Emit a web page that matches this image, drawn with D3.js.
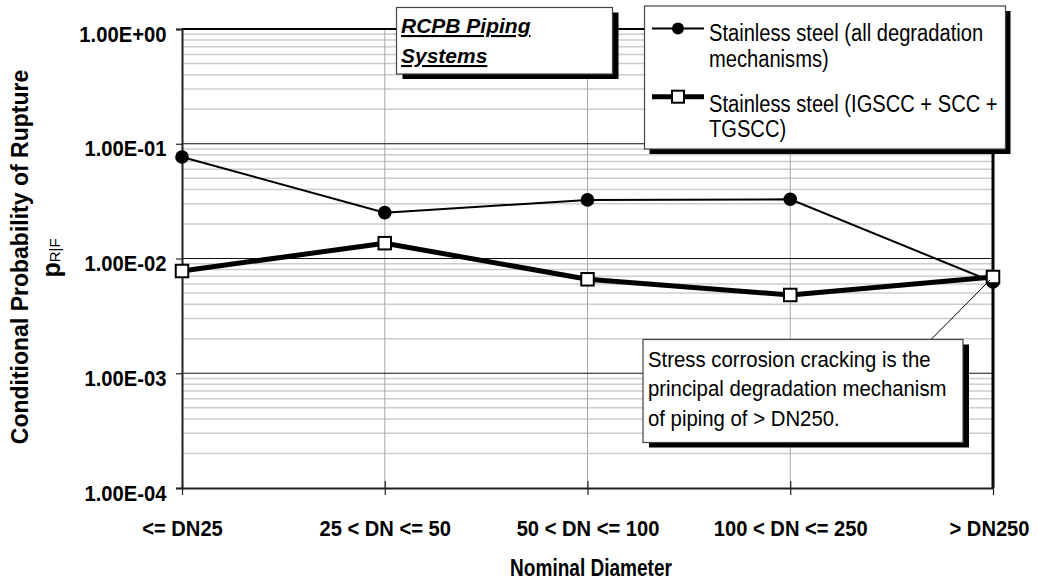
<!DOCTYPE html>
<html>
<head>
<meta charset="utf-8">
<script src="https://cdn.jsdelivr.net/npm/d3@7"></script>
<style>
  html, body { margin: 0; padding: 0; background: #fff; }
  svg { display: block; font-family: "Liberation Sans", Arial, sans-serif; }
</style>
</head>
<body>
<svg id="chart" width="1038" height="580"></svg>
<script>
// ---- data ----
const categories = ["<= DN25", "25 < DN <= 50", "50 < DN <= 100", "100 < DN <= 250", "> DN250"];
const allMechanisms = [0.0766, 0.0251, 0.0324, 0.0328, 0.00624];
const sccOnly = [0.00778, 0.0136, 0.00659, 0.00481, 0.0069];
const yTickValues = [1e-4, 1e-3, 1e-2, 1e-1, 1];
const yTickLabels = ["1.00E-04", "1.00E-03", "1.00E-02", "1.00E-01", "1.00E+00"];
const seriesNames = ["Stainless steel (all degradation|mechanisms)", "Stainless steel (IGSCC + SCC +|TGSCC)"];
const titleLines = ["RCPB Piping", "Systems"];
const noteLines = ["Stress corrosion cracking is the", "principal degradation mechanism", "of piping of > DN250."];
const xTitle = "Nominal Diameter";
const yTitle = "Conditional Probability of Rupture";

// ---- layout ----
const FONT = "Liberation Sans, Arial, sans-serif";
const L = 182, R = 993, T = 29, B = 488;
const svg = d3.select("#chart");
const x = d3.scalePoint().domain(categories).range([L, R]);
const y = d3.scaleLog().domain([1e-4, 1]).range([B, T]);

// horizontally condense text (reference lettering is narrow)
function squeeze(sel, f) {
  sel.each(function () {
    const t = d3.select(this);
    const tx = +t.attr("x") || 0, ty = +t.attr("y") || 0;
    t.attr("x", 0).attr("y", 0).attr("transform", `translate(${tx},${ty}) scale(${f},1)`);
  });
}

// minor gridlines
const minor = [];
for (let e = -4; e < 0; e++) for (let m = 2; m <= 9; m++) minor.push(m * Math.pow(10, e));
svg.append("g").selectAll("line").data(minor).join("line")
  .attr("x1", L).attr("x2", R)
  .attr("y1", d => y(d)).attr("y2", d => y(d))
  .attr("stroke", "#cccccc").attr("stroke-width", 1.5);

// vertical gridlines
svg.append("g").selectAll("line").data(categories.slice(1, -1)).join("line")
  .attr("x1", d => x(d)).attr("x2", d => x(d))
  .attr("y1", T).attr("y2", B)
  .attr("stroke", "#a8a8a8").attr("stroke-width", 1);

// major gridlines
svg.append("g").selectAll("line").data(yTickValues.slice(1, -1)).join("line")
  .attr("x1", L).attr("x2", R)
  .attr("y1", d => y(d)).attr("y2", d => y(d))
  .attr("stroke", "#111").attr("stroke-width", 1.2);

// frame
svg.append("line").attr("x1", L).attr("x2", R).attr("y1", T).attr("y2", T)
  .attr("stroke", "#000").attr("stroke-width", 2);
svg.append("line").attr("x1", R).attr("x2", R).attr("y1", T).attr("y2", B)
  .attr("stroke", "#000").attr("stroke-width", 3);

// y axis
const yAxis = d3.axisLeft(y).tickValues(yTickValues)
  .tickFormat((d, i) => yTickLabels[i]).tickSize(6).tickPadding(9);
const gy = svg.append("g").attr("transform", `translate(${L},0)`).call(yAxis);
gy.select(".domain").attr("stroke", "#222").attr("stroke-width", 2);
gy.selectAll(".tick line").attr("stroke", "#222").attr("stroke-width", 1.2);
const yLab = gy.selectAll(".tick text").attr("font-size", 22).attr("font-weight", "bold")
  .attr("fill", "#000").attr("font-family", FONT).attr("x", -15.5).attr("y", 12).attr("dy", 0);
squeeze(yLab, 0.92);

// x axis
const xAxis = d3.axisBottom(x).tickSize(0).tickPadding(0);
const gx = svg.append("g").attr("transform", `translate(0,${B})`).call(xAxis);
gx.select(".domain").attr("stroke", "#222").attr("stroke-width", 2);
gx.selectAll(".tick line").remove();
gx.selectAll(".tick").append("line").attr("y1", -7).attr("y2", 7)
  .attr("stroke", "#222").attr("stroke-width", 1.2);
const xLab = gx.selectAll(".tick text").attr("y", 48).attr("dy", 0).attr("font-size", 22.5)
  .attr("font-weight", "bold").attr("fill", "#000").attr("font-family", FONT)
  .attr("x", (d, i) => i === categories.length - 1 ? -4 : 0);
squeeze(xLab, 0.895);

// axis titles
const xt = svg.append("text").attr("x", 591).attr("y", 576).attr("text-anchor", "middle")
  .attr("font-size", 23.5).attr("font-weight", "bold").text(xTitle);
squeeze(xt, 0.81);
svg.append("text").attr("transform", "translate(28,257) rotate(-90)").attr("text-anchor", "middle")
  .attr("font-size", 23).attr("font-weight", "bold").text(yTitle);
const yt2 = svg.append("text").attr("transform", "translate(59.5,258) rotate(-90)").attr("text-anchor", "middle");
yt2.append("tspan").attr("font-size", 25).attr("font-weight", "bold").text("p");
yt2.append("tspan").attr("font-size", 15).text("R|F");

// series
const line = d3.line().x((d, i) => x(categories[i])).y(d => y(d));
svg.append("path").datum(allMechanisms).attr("d", line)
  .attr("fill", "none").attr("stroke", "#000").attr("stroke-width", 2);
svg.append("g").selectAll("circle").data(allMechanisms).join("circle")
  .attr("cx", (d, i) => x(categories[i])).attr("cy", d => y(d)).attr("r", 6.8).attr("fill", "#000");

svg.append("path").datum(sccOnly).attr("d", line)
  .attr("fill", "none").attr("stroke", "#000").attr("stroke-width", 5).attr("stroke-linejoin", "round");
const sq = 12.5;
svg.append("g").selectAll("rect").data(sccOnly).join("rect")
  .attr("x", (d, i) => x(categories[i]) - sq / 2).attr("y", d => y(d) - sq / 2)
  .attr("width", sq).attr("height", sq)
  .attr("fill", "#fff").attr("stroke", "#000").attr("stroke-width", 2);

// boxes with drop shadow
function shadowBox(x0, y0, w, h, dx, dy) {
  svg.append("rect").attr("x", x0 + dx).attr("y", y0 + dy).attr("width", w).attr("height", h).attr("fill", "#000");
  svg.append("rect").attr("x", x0).attr("y", y0).attr("width", w).attr("height", h)
    .attr("fill", "#fff").attr("stroke", "#444").attr("stroke-width", 1.2);
}

// title box
shadowBox(396.5, 7.5, 216, 66.5, 6, 5);
titleLines.forEach((t, i) => {
  svg.append("text").attr("x", 401).attr("y", 33 + i * 30)
    .attr("font-size", 21).attr("font-weight", "bold").attr("font-style", "italic")
    .attr("text-decoration", "underline").text(t);
});

// legend
shadowBox(644.5, 6, 361, 143, 5, 5);
const legY = [28.5, 96.7];
const legText = [[40.5, 66.5], [111.5, 137]];
legY.forEach((ly, k) => {
  svg.append("line").attr("x1", 652).attr("x2", 704).attr("y1", ly).attr("y2", ly)
    .attr("stroke", "#000").attr("stroke-width", k === 0 ? 2 : 5);
  if (k === 0) svg.append("circle").attr("cx", 678).attr("cy", ly).attr("r", 6).attr("fill", "#000");
  else svg.append("rect").attr("x", 678 - 6).attr("y", ly - 6).attr("width", 12).attr("height", 12)
    .attr("fill", "#fff").attr("stroke", "#000").attr("stroke-width", 2);
  seriesNames[k].split("|").forEach((t, j) => {
    const tx = svg.append("text").attr("x", 709).attr("y", legText[k][j]).attr("font-size", 23).text(t);
    squeeze(tx, 0.875);
  });
});

// annotation
const lastX = x(categories[categories.length - 1]);
svg.append("line").attr("x1", 931).attr("y1", 339.5).attr("x2", lastX - 3).attr("y2", y(sccOnly[4]) + 3)
  .attr("stroke", "#000").attr("stroke-width", 1);
shadowBox(643, 339.5, 320, 103, 6, 5);
noteLines.forEach((t, i) => {
  const tx = svg.append("text").attr("x", 648).attr("y", 366.5 + i * 29.5).attr("font-size", 23).text(t);
  squeeze(tx, 0.885);
});
</script>
</body>
</html>
